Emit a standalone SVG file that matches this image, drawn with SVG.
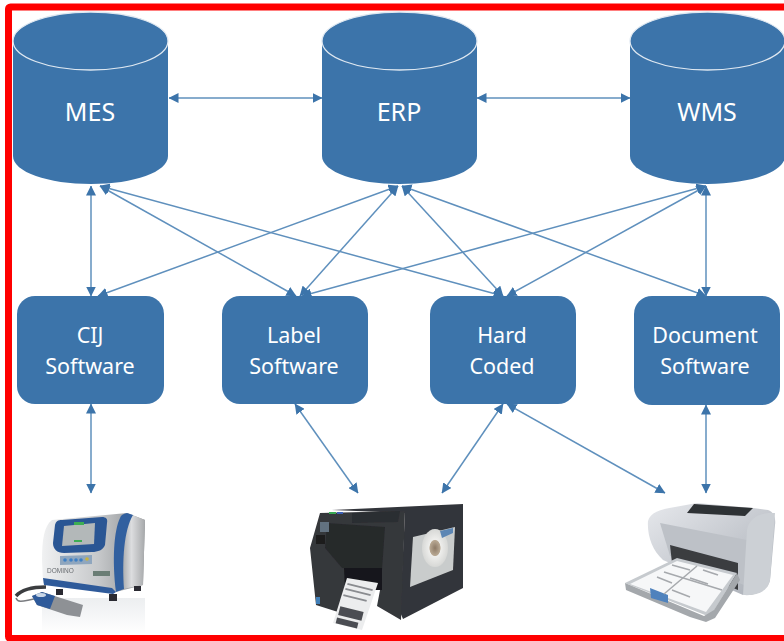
<svg xmlns="http://www.w3.org/2000/svg" width="784" height="641" viewBox="0 0 784 641">
<style>
.n{fill:#3c74aa}
.cap{fill:#3c74aa;stroke:#dfe8f1;stroke-width:1.3}
.t{font-family:"Noto Sans","Open Sans","Liberation Sans",sans-serif;fill:#fff;text-anchor:middle}
.db{font-size:25px}
.sw{font-size:21.5px}
.c line{stroke:#5f90bd;stroke-width:1.5;marker-start:url(#a);marker-end:url(#a)}
</style>
<defs>
<marker id="a" viewBox="0 0 10 10" refX="9.5" refY="5" markerUnits="userSpaceOnUse" markerWidth="10" markerHeight="10" orient="auto-start-reverse"><path d="M0 0L10 5L0 10Z" fill="#3c74aa"/></marker>
<filter id="soft" x="-5%" y="-5%" width="110%" height="110%"><feGaussianBlur stdDeviation="0.6"/></filter>
<linearGradient id="steel" x1="0" x2="1" y1="0" y2="0"><stop offset="0" stop-color="#f0f1f2"/><stop offset=".55" stop-color="#c6c8ca"/><stop offset="1" stop-color="#8a8d90"/></linearGradient>
<linearGradient id="steel2" x1="0" x2="1" y1="0" y2="0"><stop offset="0" stop-color="#8f9294"/><stop offset=".5" stop-color="#dcdddf"/><stop offset="1" stop-color="#a6a8aa"/></linearGradient>
<linearGradient id="grey" x1="0" x2="1" y1="0" y2="1"><stop offset="0" stop-color="#e6e8ec"/><stop offset="1" stop-color="#a9aeb6"/></linearGradient>
<linearGradient id="fade" x1="0" x2="0" y1="0" y2="1"><stop offset="0" stop-color="#eceef0"/><stop offset="1" stop-color="#ffffff"/></linearGradient>
<radialGradient id="roll"><stop offset="0" stop-color="#8d7a66"/><stop offset=".4" stop-color="#b8a893"/><stop offset=".45" stop-color="#eeeeec"/><stop offset="1" stop-color="#d7d8d6"/></radialGradient>
</defs>
<rect width="784" height="641" fill="#fff"/>
<rect x="8.5" y="7" width="800" height="631.5" rx="2" fill="none" stroke="#ff0000" stroke-width="7"/>

<g id="connectors" class="c">
<line x1="169" y1="98" x2="322" y2="98"/>
<line x1="477" y1="98" x2="630" y2="98"/>
<line x1="91" y1="186" x2="91" y2="296"/>
<line x1="100" y1="186" x2="296" y2="296"/>
<line x1="100" y1="186" x2="503" y2="296"/>
<line x1="98" y1="296" x2="398" y2="186"/>
<line x1="300" y1="296" x2="398" y2="186"/>
<line x1="302" y1="296" x2="706" y2="186"/>
<line x1="503" y1="296" x2="402" y2="186"/>
<line x1="507" y1="296" x2="706" y2="186"/>
<line x1="706" y1="296" x2="402" y2="186"/>
<line x1="706" y1="186" x2="706" y2="296"/>
<line x1="91" y1="404" x2="91" y2="493"/>
<line x1="295" y1="404" x2="358" y2="493"/>
<line x1="503" y1="404" x2="442" y2="493"/>
<line x1="507" y1="404" x2="665" y2="493"/>
<line x1="706" y1="405" x2="706" y2="493"/>
</g>

<g id="mes"><path class="n" d="M13 41V156C13 172 48 184 91 184S168 172 168 156V41Z"/><ellipse class="cap" cx="90.500" cy="41" rx="77.500" ry="29"/><text class="t db" x="90" y="121">MES</text></g>
<g id="erp"><path class="n" d="M322 41V156C322 172 357 184 399.500 184S477 172 477 156V41Z"/><ellipse class="cap" cx="399.500" cy="41" rx="77.500" ry="29"/><text class="t db" x="399" y="121">ERP</text></g>
<g id="wms"><path class="n" d="M630 41V156C630 172 665 184 707.500 184S785 172 785 156V41Z"/><ellipse class="cap" cx="707.500" cy="41" rx="77.500" ry="29"/><text class="t db" x="707" y="121">WMS</text></g>

<g id="cij"><rect class="n" x="17" y="296" width="147" height="108" rx="18"/><text class="t sw" x="90" y="343">CIJ</text><text class="t sw" x="90" y="374">Software</text></g>
<g id="label"><rect class="n" x="222" y="296" width="146" height="108" rx="18"/><text class="t sw" x="294" y="343">Label</text><text class="t sw" x="294" y="374">Software</text></g>
<g id="hard"><rect class="n" x="430" y="296" width="146" height="108" rx="18"/><text class="t sw" x="502" y="343">Hard</text><text class="t sw" x="502" y="374">Coded</text></g>
<g id="document"><rect class="n" x="634" y="296" width="146" height="109" rx="18"/><text class="t sw" x="705" y="343">Document</text><text class="t sw" x="705" y="374">Software</text></g>

<g id="inkjet" filter="url(#soft)">
<rect x="42" y="598" width="103" height="36" fill="url(#fade)"/>
<path d="M43 583L42 560C42 540 44 526 52 520L127 513L145 520L143 585L112 593Z" fill="url(#steel)"/>
<path d="M127 513L145 520L143 585L118 590C120 560 120 530 127 513Z" fill="url(#steel2)"/>
<path d="M127 513L133 515C124 530 122 560 124 589L116 592C112 560 114 530 120 518C121 515 123 514 127 513Z" fill="#33609f"/>
<path d="M43 578L112 588L116 592L113 594L44 585Z" fill="#2f5a9a"/>
<path d="M53 543L55 525C56 521 58 520 62 520L102 517C106 517 108 519 107 523L105 545C103 550 98 552 92 552L64 553C57 553 53 549 53 543Z" fill="#2c5694"/>
<path d="M62 546L64 526L95 523L94 544Z" fill="#b3b8b9"/>
<rect x="74" y="522" width="10" height="3" fill="#3cae52"/>
<rect x="74" y="540" width="8" height="2" fill="#3cae52"/>
<path d="M60 556L92 555V564L60 565Z" fill="#8fa6be"/>
<circle cx="65" cy="560" r="1.800" fill="#3d7fc4"/><circle cx="71" cy="560" r="1.800" fill="#3d7fc4"/><circle cx="76" cy="560" r="1.800" fill="#3d7fc4"/><circle cx="81" cy="560" r="1.800" fill="#3d7fc4"/><circle cx="87" cy="559" r="1.800" fill="#c8b23f"/>
<rect x="93" y="571" width="17" height="5" fill="#6b7d74"/>
<rect x="56" y="589" width="7" height="6" fill="#2a2c30"/><rect x="109" y="594" width="8" height="7" fill="#2a2c30"/><rect x="134" y="586" width="7" height="5" fill="#2a2c30"/>
<path d="M16 596C22 589 32 587 46 587" fill="none" stroke="#3a3c40" stroke-width="3.500"/>
<path d="M16 598C18 604 26 600 34 599" fill="none" stroke="#7a7c80" stroke-width="1.500"/>
<path d="M32 596L42 592L83 605L80 617L67 615L37 605Z" fill="#8e9195"/>
<path d="M32 596L42 592L55 596L50 609L37 605Z" fill="#2f5a9a"/>
<ellipse cx="41" cy="595" rx="5" ry="2" fill="#c9d6e6"/>
<text x="47" y="573" font-family="Liberation Sans,sans-serif" font-size="6.500" fill="#6a6e72">DOMINO</text>
</g>

<g id="label-printer" filter="url(#soft)">
<path d="M332 510L463 504V588L403 619L400 612L405 513Z" fill="#33353a"/>
<path d="M320 513L405 511L401 620L377 606L381 585H350L338 612L316 605L310 548Z" fill="#35373b"/>
<path d="M413 537L455 527L453 570L410 587Z" fill="#c9cccc"/>
<ellipse cx="435" cy="548" rx="13" ry="19" fill="url(#roll)"/>
<path d="M440 531L453 528V533L442 538Z" fill="#5c86b4"/>
<path d="M327 523L385 527L382 570L342 568L325 548Z" fill="#28292c"/>
<path d="M352 513L400 511L398 522L352 523Z" fill="#2c2d31"/>
<rect x="320" y="522" width="9" height="10" fill="#627280"/>
<rect x="329" y="512" width="7" height="2" fill="#39a852"/><rect x="337" y="512" width="6" height="2" fill="#3a5fb4"/>
<rect x="316" y="535" width="9" height="9" fill="#1b1c1f"/>
<path d="M344 568H382V590H370L360 610L345 590Z" fill="#17181a"/>
<path d="M347 578L378 583L362 630L333 623Z" fill="#ecedee"/>
<g fill="#4c4e52"><rect x="339" y="609" width="24" height="9" transform="rotate(14 351 613)"/><rect x="336" y="620" width="22" height="6" transform="rotate(14 347 623)"/></g>
<g fill="#8a8c90"><rect x="347" y="586" width="26" height="2" transform="rotate(14 360 587)"/><rect x="345" y="591" width="26" height="2" transform="rotate(14 358 592)"/><rect x="343" y="597" width="24" height="2" transform="rotate(14 355 598)"/></g>
<rect x="316" y="597" width="4" height="7" fill="#3f7fb8"/>
</g>

<g id="laser-printer" filter="url(#soft)">
<path d="M648 521C650 513 660 509 675 507L697 503L753 508L768 510C774 512 776 518 775 525L770 580C768 590 755 596 743 595L663 560C652 550 647 535 648 521Z" fill="url(#grey)"/>
<path d="M694 504L753 508L745 516L687 513Z" fill="#2f3134"/>
<path d="M660 523L747 540L744 585L670 556Z" fill="#bdc1c7"/>
<path d="M747 530C749 518 760 512 775 513L770 580C768 592 756 596 743 595Z" fill="#ccd0d5"/>
<path d="M670 545L738 563L738 590L672 563Z" fill="#3a3c40"/>
<path d="M625 583L677 558L737 573L710 617Z" fill="#c6cace"/>
<path d="M630 584L677 561L733 575L706 612Z" fill="#f6f7f8"/>
<path d="M625 583L704 616L714 610L737 573L740 580L715 618L706 622L690 617L626 590Z" fill="#a4a8ac"/>
<path d="M650 588L668 595L668 603L651 598Z" fill="#4f82bd"/>
<g stroke="#a6a9ad" stroke-width="1.500" fill="none"><path d="M672 565L690 570"/><path d="M703 570L718 575"/><path d="M657 577L672 583"/><path d="M690 578L708 584"/><path d="M672 590L690 597"/><path d="M664 572L722 590"/><path d="M697 566L664 594"/></g>
</g>
</svg>
